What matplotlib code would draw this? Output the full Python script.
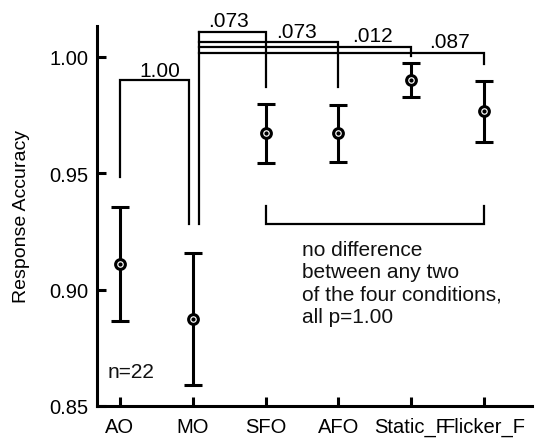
import matplotlib
matplotlib.use("Agg")
import matplotlib.pyplot as plt

plt.rcParams['font.family'] = ['Liberation Sans', 'DejaVu Sans']

# conditions and mean accuracy with error bars
conditions = ['AO', 'MO', 'SFO', 'AFO', 'Static_F', 'Flicker_F']
means = [0.911, 0.8875, 0.967, 0.967, 0.990, 0.9765]
errors = [0.0245, 0.0283, 0.0128, 0.0122, 0.0072, 0.0132]

# p-values of the pairwise comparisons
p_ao_mo = '1.00'
p_mo = ['.073', '.073', '.012', '.087']

x = list(range(1, len(conditions) + 1))

fig = plt.figure(figsize=(5.5, 4.39), dpi=100)
ax = fig.add_axes([0.1764, 0.0729, 0.967 - 0.1764, 0.9385 - 0.0729])

ax.errorbar(x, means, yerr=errors, fmt='none', ecolor='black',
            elinewidth=2.2, capsize=6.5, capthick=2.2, zorder=3)
ax.plot(x, means, 'o', ms=7, mfc='white', mec='black', mew=2.2, zorder=4)
ax.plot(x, means, 'o', ms=2, color='black', zorder=5)

lw = 1.6
fs = 15
# AO vs MO
ax.plot([1.0, 1.0, 1.945, 1.945], [0.9483, 0.9899, 0.9899, 0.9281],
        color='black', lw=lw, solid_joinstyle='miter')
ax.text(1.55, 0.9939, p_ao_mo, ha='center', va='center', fontsize=fs)

# MO vs each of the four other conditions
xl = 2.08
tops = [1.0105, 1.0062, 1.0039, 1.0013]
ends = [0.9869, 0.9869, 1.0002, 0.9968]
ax.plot([xl, xl], [0.9281, tops[0]], color='black', lw=lw, clip_on=False)
for i, (t, e) in enumerate(zip(tops, ends)):
    ax.plot([xl, x[i + 2], x[i + 2]], [t, t, e], color='black', lw=lw,
            clip_on=False, solid_joinstyle='miter')
label_pos = [(2.497, 1.0154), (3.42, 1.0107), (4.475, 1.0089), (5.533, 1.0064)]
for (lx, ly), s in zip(label_pos, p_mo):
    ax.text(lx, ly, s, ha='center', va='center', fontsize=fs, clip_on=False)

# bracket under the four conditions
ax.plot([3, 3, 6, 6], [0.9360, 0.9281, 0.9281, 0.9360], color='black', lw=lw,
        solid_joinstyle='miter')
ax.text(3.5, 0.9212, 'no difference\nbetween any two\nof the four conditions,\nall p=1.00',
        ha='left', va='top', fontsize=fs, linespacing=1.22, color='#111111')

ax.text(0.835, 0.8646, 'n=22', ha='left', va='center', fontsize=fs, color='#111111')

ax.set_xlim(0.684, 6.66)
ax.set_ylim(0.85, 1.0131)
ax.set_xticks(x)
ax.set_xticklabels(conditions)
ax.set_yticks([0.85, 0.90, 0.95, 1.00])
ax.set_yticklabels(['0.85', '0.90', '0.95', '1.00'])
ax.tick_params(direction='in', length=6.5, width=2.2, labelsize=14.5, pad=6)
ax.tick_params(axis='x', pad=8)

for side in ['top', 'right']:
    ax.spines[side].set_visible(False)
for side in ['left', 'bottom']:
    ax.spines[side].set_linewidth(2.2)

ax.set_ylabel('Response Accuracy', fontsize=14)
ax.yaxis.set_label_coords(-0.155, 0.5)

fig.savefig('out.png', dpi=100)
